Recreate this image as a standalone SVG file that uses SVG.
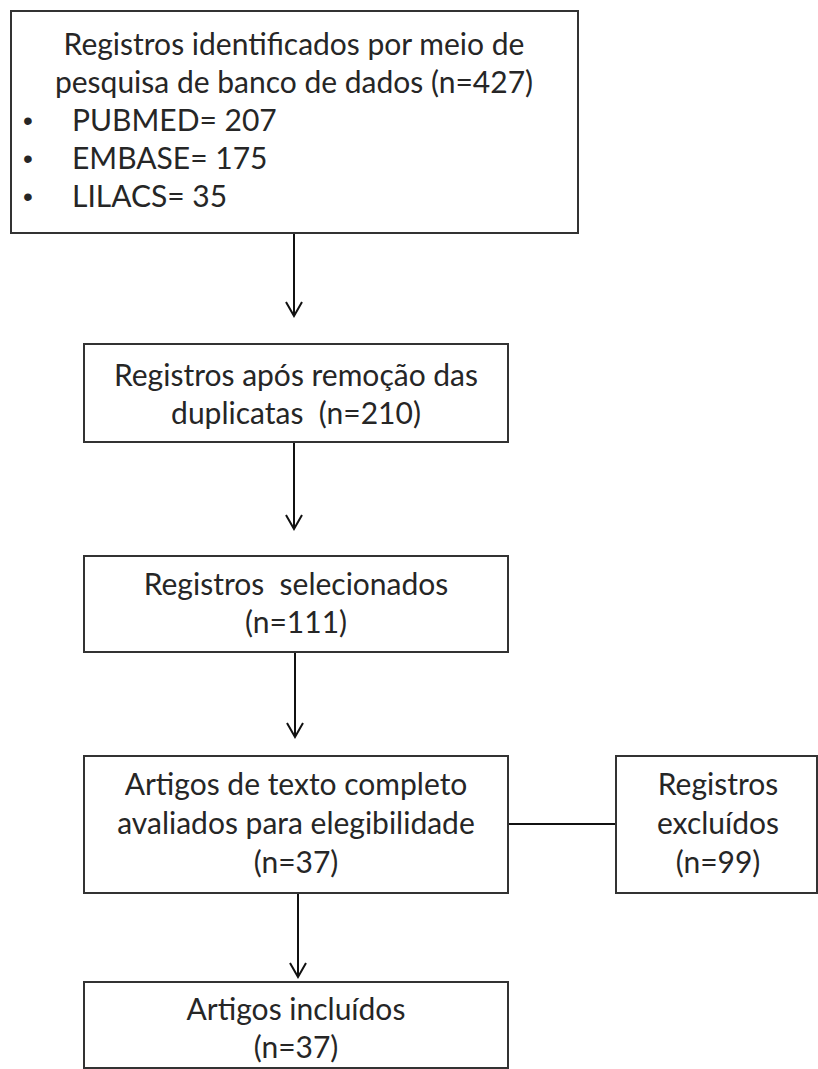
<svg xmlns="http://www.w3.org/2000/svg" width="818" height="1069" viewBox="0 0 818 1069">
<defs>
<style>
.box{fill:#fff;stroke:#333;stroke-width:2}
.t{font-family:Lato,"Open Sans","Liberation Sans",sans-serif;font-size:30px;fill:#262626;white-space:pre}
.c{text-anchor:middle}
.b{font-family:"Liberation Sans",sans-serif;font-size:28px;fill:#262626}
.ln{stroke:#111;stroke-width:2;fill:none}
</style>
</defs>
<rect width="818" height="1069" fill="#fff"/>
<g id="connectors">
<line class="ln" x1="294" y1="233" x2="294" y2="316"/>
<path class="ln" d="M286,302 L294,316 L302,302"/>
<line class="ln" x1="294" y1="442" x2="294" y2="529"/>
<path class="ln" d="M286,515 L294,529 L302,515"/>
<line class="ln" x1="295" y1="652" x2="295" y2="737"/>
<path class="ln" d="M287,723 L295,737 L303,723"/>
<line class="ln" x1="298" y1="893" x2="298" y2="977"/>
<path class="ln" d="M290,963 L298,977 L306,963"/>
<line class="ln" x1="508" y1="824" x2="616" y2="824"/>
</g>
<g id="n1">
<rect class="box" x="11" y="11" width="567" height="222"/>
<text class="t c" x="294" y="55">Registros identificados por meio de</text>
<text class="t c" x="294" y="93">pesquisa de banco de dados (n=427)</text>
<text class="b" x="23" y="130">•</text>
<text class="t" x="72" y="131">PUBMED= 207</text>
<text class="b" x="23" y="168">•</text>
<text class="t" x="72" y="169">EMBASE= 175</text>
<text class="b" x="23" y="206">•</text>
<text class="t" x="72" y="207">LILACS= 35</text>
</g>
<g id="n2">
<rect class="box" x="84" y="344" width="424" height="98"/>
<text class="t c" x="296" y="386">Registros após remoção das</text>
<text class="t c" x="296" y="424" xml:space="preserve">duplicatas  (n=210)</text>
</g>
<g id="n3">
<rect class="box" x="84" y="556" width="424" height="96"/>
<text class="t c" x="296" y="595" xml:space="preserve">Registros  selecionados</text>
<text class="t c" x="296" y="633">(n=111)</text>
</g>
<g id="n4">
<rect class="box" x="84" y="756" width="424" height="137"/>
<text class="t c" x="296" y="795">Artigos de texto completo</text>
<text class="t c" x="296" y="834">avaliados para elegibilidade</text>
<text class="t c" x="296" y="873">(n=37)</text>
</g>
<g id="n5">
<rect class="box" x="616" y="756" width="201" height="137"/>
<text class="t c" x="718" y="795">Registros</text>
<text class="t c" x="718" y="834">excluídos</text>
<text class="t c" x="718" y="873">(n=99)</text>
</g>
<g id="n6">
<rect class="box" x="84" y="982" width="424" height="86"/>
<text class="t c" x="296" y="1020">Artigos incluídos</text>
<text class="t c" x="296" y="1058">(n=37)</text>
</g>
</svg>
